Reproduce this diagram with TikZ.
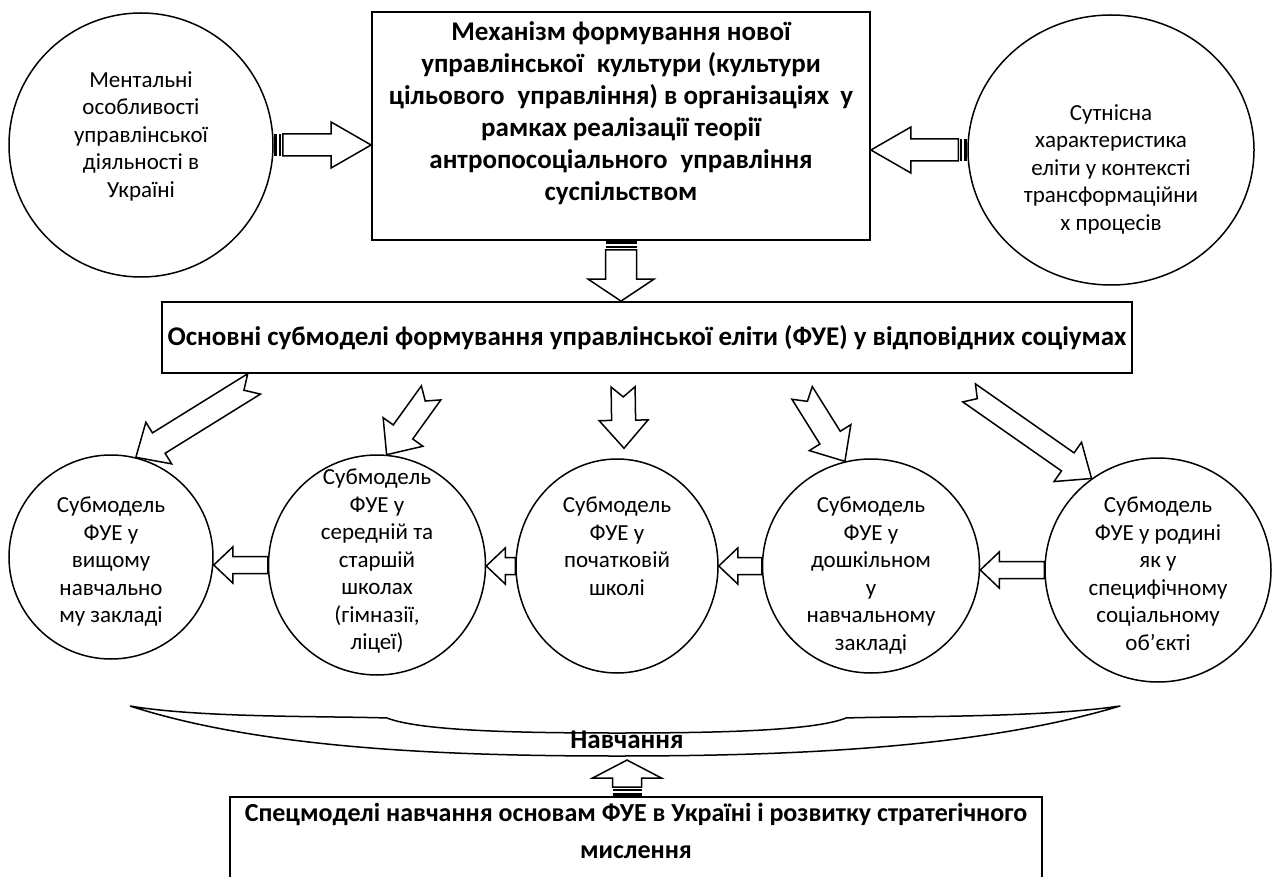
\documentclass[tikz,border=0pt]{standalone}
\usepackage{fontspec}
\setmainfont{Carlito}
\usetikzlibrary{shapes.geometric,calc}

\tikzset{
  bubble/.style={ellipse,draw,line width=1.5pt,inner sep=0pt},
  frame/.style={draw,line width=1.8pt,inner sep=0pt},
  plain/.style={font=\fontsize{23}{27.5}\selectfont,align=center,inner sep=0pt},
  heavy/.style={font=\bfseries\fontsize{27}{32}\selectfont,align=center,inner sep=0pt},
  blockarrow/.style={draw,fill=white,line width=1.5pt,line join=miter},
}

% block arrow: tail, tip, half shaft, half head, head length, notch
\newcommand{\blockarrow}[6]{%
  \path ($(#2)!#5!(#1)$) coordinate (hb);
  \draw[blockarrow] ($(#1)!#3!90:(#2)$) -- ($(hb)!#3!90:(#2)$) -- ($(hb)!#4!90:(#2)$) -- (#2)
    -- ($(hb)!#4!-90:(#2)$) -- ($(hb)!#3!-90:(#2)$) -- ($(#1)!#3!-90:(#2)$)
    -- ($(#1)!#6!(#2)$) -- cycle;
}
% striped arrow: tail, tip, half shaft, half head, head length
\newcommand{\stripedarrow}[5]{%
  \path ($(#1)!3.5pt!(#2)$) coordinate (sa) ($(#1)!5.5pt!(#2)$) coordinate (sb)
        ($(#1)!7pt!(#2)$) coordinate (sc) ($(#1)!9pt!(#2)$) coordinate (sd);
  \fill ($(#1)!#3!90:(#2)$) -- ($(sa)!#3!90:(#2)$) -- ($(sa)!#3!-90:(#2)$) -- ($(#1)!#3!-90:(#2)$) -- cycle;
  \fill ($(sb)!#3!90:(#2)$) -- ($(sc)!#3!90:(#2)$) -- ($(sc)!#3!-90:(#2)$) -- ($(sb)!#3!-90:(#2)$) -- cycle;
  \blockarrow{sd}{#2}{#3}{#4}{#5}{0pt}
}

\begin{document}
\begin{tikzpicture}[x=1pt,y=-1pt]
\clip (0,0) rectangle (1274,877);

% Upper level
\node[frame,minimum width=498pt,minimum height=228pt] (mech) at (621,126) {};
\node[heavy,anchor=north] (mecht) at (621,21) {Механізм формування нової\\управлінської\hspace{7pt} культури (культури\\цільового\hspace{7pt} управління) в організаціях\hspace{5pt} у\\рамках реалізації теорії\\антропосоціального\hspace{7pt} управління\\суспільством};
\node[bubble,minimum width=264pt,minimum height=264pt] (ment) at (141,145) {};
\node[plain,anchor=north] (mentt) at (141,71) {Ментальні\\особливості\\управлінської\\діяльності в\\Україні};
\node[bubble,minimum width=286pt,minimum height=270pt] (elite) at (1111,150) {};
\node[plain,anchor=north] (elitet) at (1111,104) {Сутнісна\\характеристика\\еліти у контексті\\трансформаційни\\х процесів};

% Submodels box
\node[frame,heavy,minimum width=970pt,minimum height=71pt] (sub) at (647,337.5) {Основні субмоделі формування управлінської еліти (ФУЕ) у відповідних соціумах};

% Lower circles
\node[bubble,minimum width=204pt,minimum height=204pt] (c1) at (111,557) {};
\node[bubble,minimum width=217pt,minimum height=220pt] (c2) at (377,565) {};
\node[bubble,minimum width=202pt,minimum height=214pt] (c3) at (617,566) {};
\node[bubble,minimum width=217pt,minimum height=214pt] (c4) at (871,566) {};
\node[bubble,minimum width=226pt,minimum height=224pt] (c5) at (1158,570) {};
\node[plain,anchor=north] (c1t) at (111,497) {Субмодель\\ФУЕ у\\вищому\\навчально\\му закладі};
\node[plain,anchor=north] (c2t) at (377,469) {Субмодель\\ФУЕ у\\середній та\\старшій\\школах\\(гімназії,\\ліцеї)};
\node[plain,anchor=north] (c3t) at (617,497) {Субмодель\\ФУЕ у\\початковій\\школі};
\node[plain,anchor=north] (c4t) at (871,497) {Субмодель\\ФУЕ у\\дошкільном\\у\\навчальному\\закладі};
\node[plain,anchor=north] (c5t) at (1158,497) {Субмодель\\ФУЕ у родині\\як у\\специфічному\\соціальному\\об’єкті};

% Bottom box and label
\node[frame,minimum width=812pt,minimum height=110pt] (low) at (636,852) {};
\node[heavy,font=\bfseries\fontsize{26}{32}\selectfont,anchor=north] (lowt) at (636,803) {Спецмоделі навчання основам ФУЕ в Україні і розвитку стратегічного\\[5pt]мислення};
\node[heavy] (learn) at (627,740) {Навчання};

% Brace
\draw[line width=1.5pt,line join=round]
  (130,706) .. controls (200,718) and (330,716) .. (387,718)
  .. controls (420,731) and (520,733) .. (617,733)
  .. controls (714,733) and (814,731) .. (846,718)
  .. controls (900,716) and (1040,718) .. (1120,706)
  .. controls (980,748) and (794,756) .. (617,756)
  .. controls (440,756) and (260,748) .. (130,706);

% Striped arrows
\coordinate (m1) at (ment.east -| mech.west);
\coordinate (m2) at (elite.west -| mech.east);
\coordinate (m3) at (mech.south |- sub.north);
\stripedarrow{ment.east}{m1}{11pt}{23pt}{40pt}
\stripedarrow{elite.west}{m2}{11pt}{23pt}{40pt}
\stripedarrow{mech.south}{m3}{15.5pt}{33pt}{22pt}
\coordinate (u0) at ([xshift=-9pt]low.north);
\coordinate (u1) at (u0 |- learn.south);
\coordinate (u2) at ($(u1)+(0,11)$);
\stripedarrow{u0}{u2}{14.5pt}{34.5pt}{18pt}

% Notched arrows to the submodels
\coordinate (d1) at ([shift={(93,10)}]sub.south west);
\coordinate (d2) at ([shift={(270,19)}]sub.south west);
\coordinate (d3) at ([shift={(462,13)}]sub.south west);
\coordinate (d4) at ([shift={(641,19)}]sub.south west);
\coordinate (d5) at ([shift={(808,19)}]sub.south west);
\coordinate (d3e) at ([shift={(7,-10)}]c3.north);
\blockarrow{d1}{c1.76}{12pt}{24.5pt}{27pt}{12pt}
\blockarrow{d2}{c2.85}{12pt}{24.5pt}{28pt}{10pt}
\blockarrow{d3}{d3e}{12pt}{24.5pt}{28pt}{10pt}
\blockarrow{d4}{c4.104}{12pt}{24.5pt}{28pt}{10pt}
\blockarrow{d5}{c5.126}{11pt}{24pt}{29pt}{10pt}

% Arrows between the circles
\coordinate (e1) at (c2.west -| c1.east);
\coordinate (e2) at (c3.west -| c2.east);
\coordinate (e3) at (c4.west -| c3.east);
\coordinate (e4) at (c5.west -| c4.east);
\blockarrow{c2.west}{e1}{8.5pt}{18pt}{19pt}{0pt}
\blockarrow{c3.west}{e2}{8.5pt}{18pt}{19pt}{0pt}
\blockarrow{c4.west}{e3}{8.5pt}{18pt}{19pt}{0pt}
\blockarrow{c5.west}{e4}{8.5pt}{18pt}{19pt}{0pt}
\end{tikzpicture}
\end{document}
